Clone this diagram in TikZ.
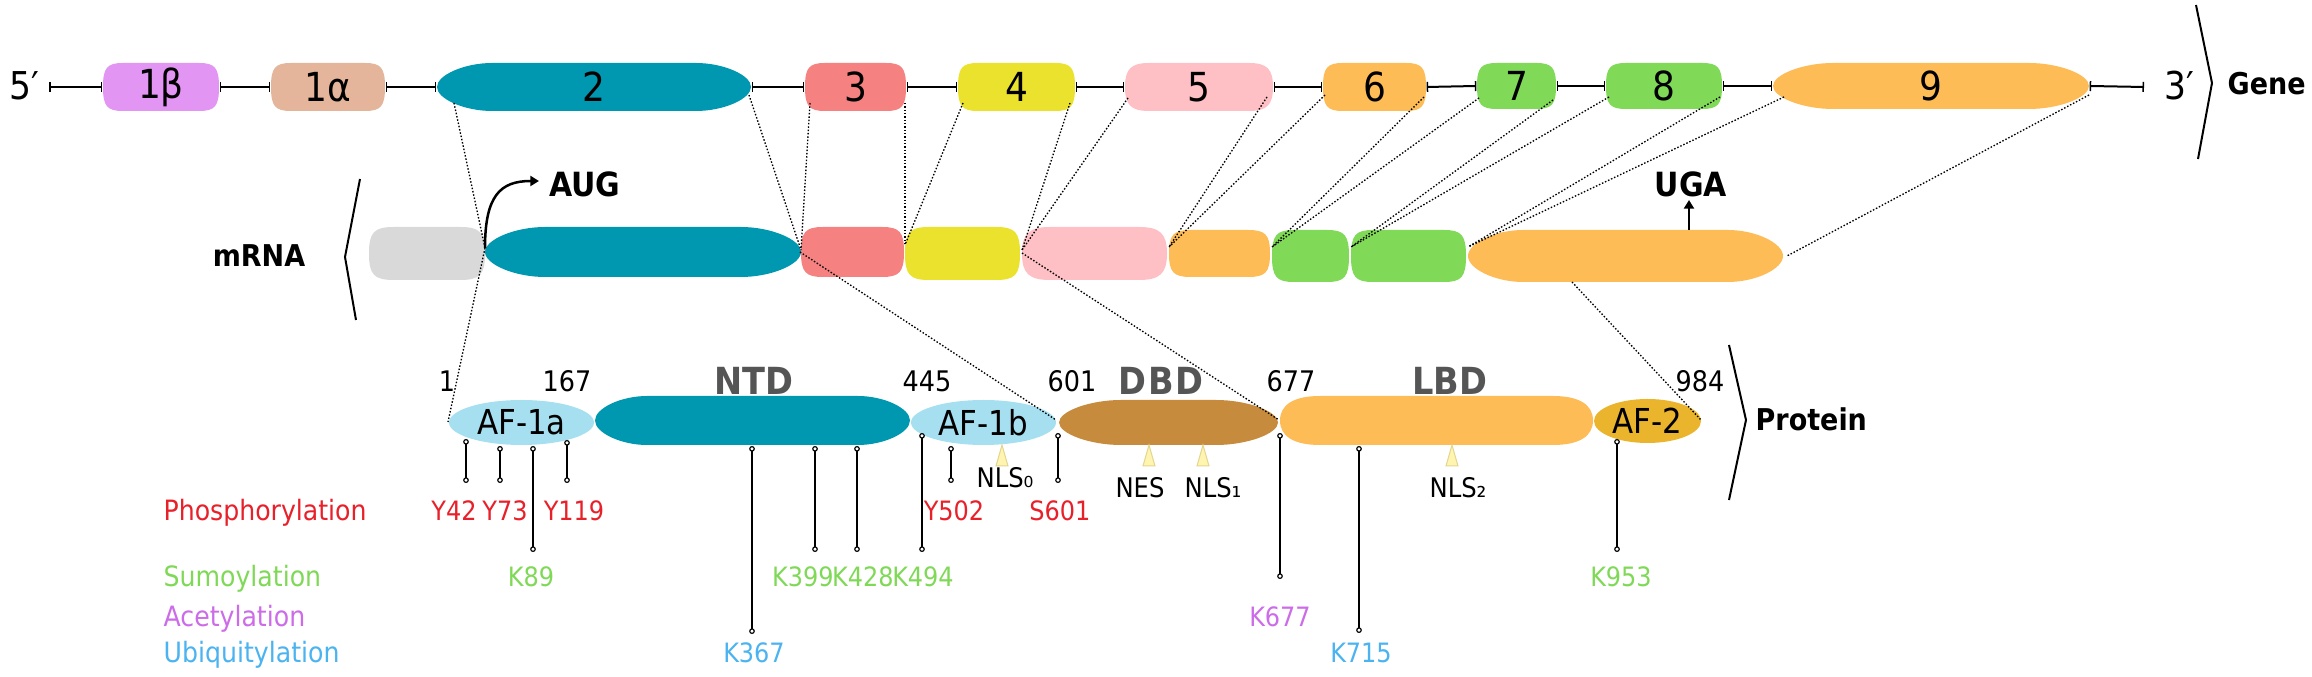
\documentclass[tikz,border=0pt]{standalone}
\usepackage{fontspec}
\setmainfont{DejaVu Sans Condensed}
\usetikzlibrary{arrows.meta}
\definecolor{exIb}{HTML}{E295F2}
\definecolor{exIa}{HTML}{E4B59A}
\definecolor{exT}{HTML}{0098B1}
\definecolor{exIII}{HTML}{F68181}
\definecolor{exIV}{HTML}{EBE22E}
\definecolor{exV}{HTML}{FFC0C5}
\definecolor{exO}{HTML}{FEBC56}
\definecolor{exG}{HTML}{80D957}
\definecolor{utr}{HTML}{D9D9D9}
\definecolor{afB}{HTML}{A6E0F0}
\definecolor{dbd}{HTML}{C68B3C}
\definecolor{afII}{HTML}{EAB52C}
\definecolor{triY}{HTML}{FFF5B0}
\definecolor{triE}{HTML}{E2D590}
\definecolor{domG}{HTML}{555555}
\definecolor{phR}{HTML}{E8202A}
\definecolor{suG}{HTML}{7FD957}
\definecolor{acP}{HTML}{CC6CE8}
\definecolor{ubB}{HTML}{4BB3F0}
\newcommand\exf{\fontsize{12}{14}\selectfont}
\newcommand\aff{\fontsize{10.3}{12}\selectfont}
% name, x1, x2, ytop, ybot, end length, control factor, colour, label
\newcommand\blob[9]{%
  \pgfmathsetmacro\bym{(#4+#5)/2}%
  \pgfmathsetmacro\bh{(#5-#4)/2}%
  \fill[#8] (#2,\bym) .. controls (#2,\bym-#7*\bh) and ({#2+#6*(1-#7)},#4) .. ({#2+#6},#4)
    -- ({#3-#6},#4) .. controls ({#3-#6*(1-#7)},#4) and (#3,\bym-#7*\bh) .. (#3,\bym)
    .. controls (#3,\bym+#7*\bh) and ({#3-#6*(1-#7)},#5) .. ({#3-#6},#5)
    -- ({#2+#6},#5) .. controls ({#2+#6*(1-#7)},#5) and (#2,\bym+#7*\bh) .. (#2,\bym) -- cycle;
  \node[inner sep=0,minimum width={(#3-#2)*0.3pt},minimum height={(#5-#4)*0.3pt}] (#1) at ({(#2+#3)/2},\bym) {#9};
}
\newcommand\lolli[4]{\coordinate (#1t) at (#2,#3); \coordinate (#1b) at (#2,#4); \draw[lol] (#1t) -- (#1b);}
\newcommand\trimark[1]{\filldraw[tri] ({#1-6},466) -- (#1,445) -- ({#1+6},466) -- cycle;}
\begin{document}
\begin{tikzpicture}[x=0.3pt,y=-0.3pt,
  intron/.style={line width=0.6pt,{Bar[width=3pt,line width=0.45pt]}-{Bar[width=3pt,line width=0.45pt]}},
  dots/.style={line width=0.4pt,dash pattern=on 0.45pt off 0.55pt},
  lol/.style={line width=0.45pt,{Circle[fill=white,length=1.7pt,width=1.7pt,line width=0.35pt]}-{Circle[fill=white,length=1.7pt,width=1.7pt,line width=0.35pt]}},
  brk/.style={line width=0.6pt},
  tri/.style={fill=triY,draw=triE,line width=0.3pt},
  num/.style={font=\fontsize{8.5}{10}\selectfont,anchor=base,inner sep=0},
  dom/.style={font=\fontsize{11.2}{13}\selectfont\bfseries,text=domG,anchor=base,inner sep=0},
  ttl/.style={font=\fontsize{9}{11}\selectfont\bfseries,anchor=base west,inner sep=0},
  cod/.style={font=\fontsize{10}{12}\selectfont\bfseries,anchor=base,inner sep=0},
  ptm/.style={font=\fontsize{8}{10}\selectfont,anchor=base,inner sep=0},
  rowl/.style={font=\fontsize{8.4}{10}\selectfont,anchor=base west,inner sep=0},
  nls/.style={font=\fontsize{8.1}{10}\selectfont,anchor=base,inner sep=0},
  prime/.style={font=\fontsize{11.5}{13}\selectfont,anchor=base,inner sep=0},
  codarr/.style={line width=0.75pt,-{Triangle[length=2.6pt,width=3pt]}},
]
\useasboundingbox (0,0) rectangle (2312,677);

% ---------- gene ----------
\blob{g1b}{103}{219}{63}{111}{20}{0.8}{exIb}{\exf 1β}
\blob{g1a}{271}{385}{63}{111}{20}{0.8}{exIa}{\exf 1α}
\blob{g2}{437}{751}{63}{111}{55}{0.5}{exT}{\exf 2}
\blob{g3}{805}{906}{63}{111}{20}{0.8}{exIII}{\exf 3}
\blob{g4}{958}{1075}{63}{111}{20}{0.8}{exIV}{\exf 4}
\blob{g5}{1125}{1273}{63}{111}{24}{0.75}{exV}{\exf 5}
\blob{g6}{1323}{1426}{63}{111}{20}{0.8}{exO}{\exf 6}
\blob{g7}{1477}{1556}{63}{109}{20}{0.8}{exG}{\exf 7}
\blob{g8}{1606}{1722}{63}{109}{20}{0.8}{exG}{\exf 8}
\blob{g9}{1773}{2089}{63}{109}{60}{0.5}{exO}{\exf 9}

\coordinate (c5) at (49,87);
\coordinate (c3) at (2144,87);
\node[prime] (five) at (24,100) {5′};
\node[prime] (three) at (2179,100) {3′};
\draw[intron] (c5) -- (g1b.west);
\draw[intron] (g1b.east) -- (g1a.west);
\draw[intron] (g1a.east) -- (g2.west);
\draw[intron] (g2.east) -- (g3.west);
\draw[intron] (g3.east) -- (g4.west);
\draw[intron] (g4.east) -- (g5.west);
\draw[intron] (g5.east) -- (g6.west);
\draw[intron] (g6.east) -- (g7.west);
\draw[intron] (g7.east) -- (g8.west);
\draw[intron] (g8.east) -- (g9.west);
\draw[intron] (g9.east) -- (c3);

\coordinate (gb1) at (2196,5); \coordinate (gb2) at (2212,83); \coordinate (gb3) at (2198,159);
\draw[brk] (gb1) -- (gb2) -- (gb3);
\node[ttl] (gene) at (2227,95) {Gene};

% ---------- mRNA ----------
\blob{m1}{369}{485}{227}{280}{25}{0.8}{utr}{}
\blob{m2}{485}{801}{227}{277}{60}{0.5}{exT}{}
\blob{m3}{801}{904}{227}{277}{22}{0.8}{exIII}{}
\blob{m4}{905}{1020}{227}{280}{24}{0.8}{exIV}{}
\blob{m5}{1022}{1167}{227}{280}{28}{0.75}{exV}{}
\blob{m6}{1169}{1270}{230}{277}{22}{0.8}{exO}{}
\blob{m7}{1272}{1349}{230}{282}{22}{0.8}{exG}{}
\blob{m8}{1351}{1466}{230}{282}{22}{0.8}{exG}{}
\blob{m9}{1468}{1783}{230}{282}{55}{0.5}{exO}{}

\coordinate (mb1) at (360,179); \coordinate (mb2) at (345,257); \coordinate (mb3) at (356,320);
\draw[brk] (mb1) -- (mb2) -- (mb3);
\node[ttl,anchor=base] (mrna) at (259,267) {mRNA};

\coordinate (m2a) at (485,248);
\coordinate (augend) at (539,181);
\draw[codarr] (m2a) .. controls (485,196) and (500,181) .. (augend);
\node[cod] (aug) at (585,197) {AUG};
\coordinate (ugas) at (1689,230);
\coordinate (ugae) at (1689,200);
\draw[codarr] (ugas) -- (ugae);
\node[cod] (uga) at (1691,197) {UGA};

% ---------- protein ----------
\blob{pA}{449}{594}{400}{445}{72.5}{0.552}{afB}{\aff AF-1a}
\blob{pN}{595}{910}{396}{445}{52}{0.5}{exT}{}
\blob{pB}{911}{1056}{400}{445}{72.5}{0.552}{afB}{\aff AF-1b}
\blob{pD}{1059}{1278}{400}{445}{62}{0.5}{dbd}{}
\blob{pL}{1280}{1593}{396}{445}{40}{0.65}{exO}{}
\blob{pII}{1594}{1701}{399}{443}{53.5}{0.552}{afII}{\aff AF-2}

\node[num] (n1) at (447,392) {1};
\node[num] (n167) at (567,392) {167};
\node[dom] (ntd) at (754,395) {NTD};
\node[num] (n445) at (927,392) {445};
\node[num] (n601) at (1072,392) {601};
\node[dom] (dbdl) at (1161,395) {D\kern0.6pt B\kern0.6pt D};
\node[num] (n677) at (1291,392) {677};
\node[dom] (lbd) at (1450,395) {LBD};
\node[num] (n984) at (1700,392) {984};

\coordinate (pb1) at (1729,345); \coordinate (pb2) at (1746,420); \coordinate (pb3) at (1729,500);
\draw[brk] (pb1) -- (pb2) -- (pb3);
\node[ttl] (prot) at (1755,431) {Protein};

% ---------- dotted correspondences ----------
\coordinate (g2a) at (454,103);  \coordinate (g2b) at (749,95);
\coordinate (g3a) at (810,103);  \coordinate (g3b) at (905,103);
\coordinate (g4a) at (963,103);  \coordinate (g4b) at (1070,103);
\coordinate (g5a) at (1128,98);  \coordinate (g5b) at (1267,97);
\coordinate (g6a) at (1325,95);  \coordinate (g6b) at (1424,97);
\coordinate (g7a) at (1479,98);  \coordinate (g7b) at (1553,100);
\coordinate (g8a) at (1609,97);  \coordinate (g8b) at (1720,97);
\coordinate (g9a) at (1784,97);  \coordinate (g9b) at (2089,95);
\coordinate (m23) at (801,250);  \coordinate (m34) at (905,245);
\coordinate (m45) at (1022,250); \coordinate (m56) at (1169,247);
\coordinate (m67) at (1272,247); \coordinate (m78) at (1351,247);
\coordinate (m89) at (1468,247); \coordinate (m9b) at (1787,256);
\coordinate (m23d) at (800,252); \coordinate (m45d) at (1022,253);
\coordinate (m9d) at (1572,282);
\coordinate (p1) at (448,422);   \coordinate (p601) at (1056,420);
\coordinate (p677) at (1279,420); \coordinate (p984) at (1701,420);
\draw[dots] (g2a) -- (m2a);
\draw[dots] (g2b) -- (m23);
\draw[dots] (g3a) -- (m23);
\draw[dots] (g3b) -- (m34);
\draw[dots] (g4a) -- (m34);
\draw[dots] (g4b) -- (m45);
\draw[dots] (g5a) -- (m45);
\draw[dots] (g5b) -- (m56);
\draw[dots] (g6a) -- (m56);
\draw[dots] (g6b) -- (m67);
\draw[dots] (g7a) -- (m67);
\draw[dots] (g7b) -- (m78);
\draw[dots] (g8a) -- (m78);
\draw[dots] (g8b) -- (m89);
\draw[dots] (g9a) -- (m89);
\draw[dots] (g9b) -- (m9b);
\draw[dots] (m2a) -- (p1);
\draw[dots] (m23d) -- (p601);
\draw[dots] (m45d) -- (p677);
\draw[dots] (m9d) -- (p984);

% ---------- motifs ----------
\trimark{1002}
\trimark{1149}
\trimark{1203}
\trimark{1452}
\node[nls] (nls0) at (1005,488) {NLS₀};
\node[nls] (nes) at (1140,498) {NES};
\node[nls] (nls1) at (1213,498) {NLS₁};
\node[nls] (nls2) at (1458,498) {NLS₂};

% ---------- modification sites ----------
\lolli{Y42}{466}{439}{483}
\lolli{Y73}{500}{446}{483}
\lolli{K89}{533}{446}{552}
\lolli{Y119}{567}{440}{483}
\lolli{K367}{752}{446}{634}
\lolli{K399}{815}{446}{552}
\lolli{K428}{857}{446}{552}
\lolli{K494}{922}{433}{552}
\lolli{Y502}{951}{446}{483}
\lolli{S601}{1058}{433}{483}
\lolli{K677}{1280}{433}{579}
\lolli{K715}{1359}{446}{633}
\lolli{K953}{1617}{439}{552}

\node[rowl,text=phR] (lph) at (163,521) {Phosphorylation};
\node[rowl,text=suG] (lsu) at (163,587) {Sumoylation};
\node[rowl,text=acP] (lac) at (163,627) {Acetylation};
\node[rowl,text=ubB] (lub) at (163,663) {Ubiquitylation};

\node[ptm,text=phR] (tY42) at (454,521) {Y42};
\node[ptm,text=phR] (tY73) at (505,521) {Y73};
\node[ptm,text=phR] (tY119) at (574,521) {Y119};
\node[ptm,text=phR] (tY502) at (954,521) {Y502};
\node[ptm,text=phR] (tS601) at (1060,521) {S601};
\node[ptm,text=suG] (tK89) at (531,587) {K89};
\node[ptm,text=suG] (tK399) at (803,587) {K399};
\node[ptm,text=suG] (tK428) at (863,587) {K428};
\node[ptm,text=suG] (tK494) at (923,587) {K494};
\node[ptm,text=suG] (tK953) at (1621,587) {K953};
\node[ptm,text=acP] (tK677) at (1280,627) {K677};
\node[ptm,text=ubB] (tK367) at (754,663) {K367};
\node[ptm,text=ubB] (tK715) at (1361,663) {K715};
\end{tikzpicture}
\end{document}
